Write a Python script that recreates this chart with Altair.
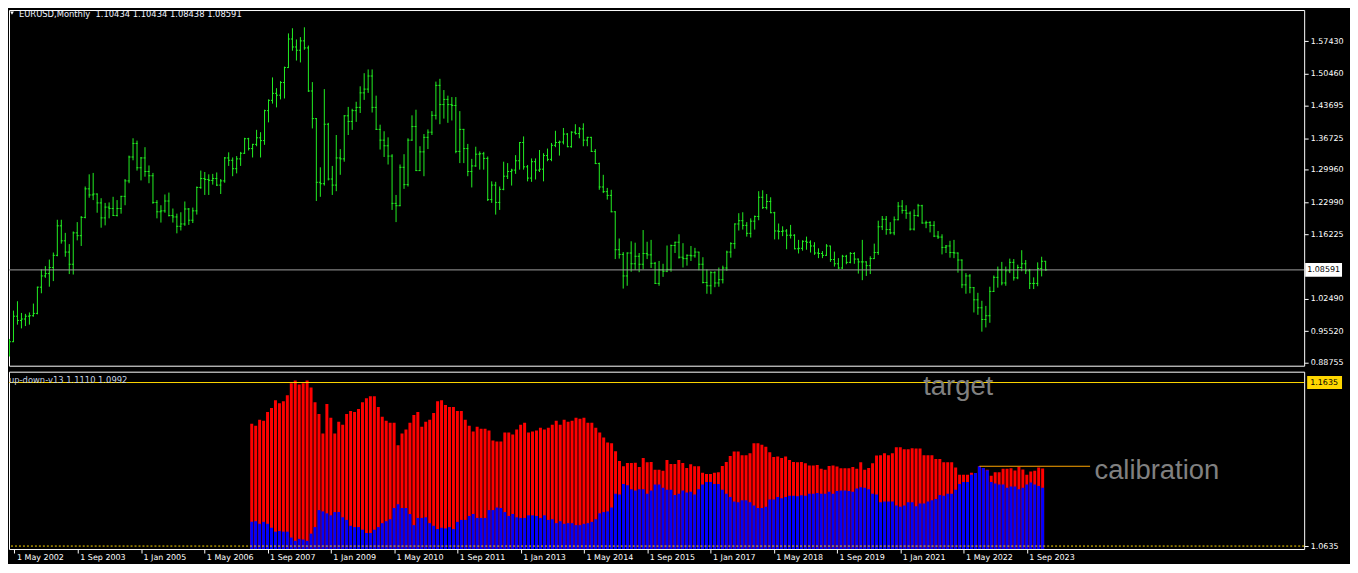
import altair as alt
import pandas as pd

# ---------------- price data: EURUSD monthly, May 2002 .. Jan 2024 ----------------
FIRST_OPEN = 0.9050
CLOSE = [
    0.9325, 0.9870, 0.9780, 0.9810, 0.9870, 0.9880, 0.9930, 1.0490,  # 2002 May-Dec
    1.0730, 1.0780, 1.0910, 1.1170, 1.1800, 1.1480, 1.1240, 1.0980, 1.1650, 1.1590, 1.1980, 1.2590,  # 2003
    1.2460, 1.2480, 1.2290, 1.1970, 1.2200, 1.2170, 1.2020, 1.2170, 1.2430, 1.2760, 1.3270, 1.3560,  # 2004
    1.3040, 1.3250, 1.2960, 1.2870, 1.2300, 1.2100, 1.2120, 1.2330, 1.2020, 1.1990, 1.1790, 1.1840,  # 2005
    1.2160, 1.1920, 1.2120, 1.2620, 1.2810, 1.2790, 1.2770, 1.2810, 1.2670, 1.2760, 1.3250, 1.3200,  # 2006
    1.3020, 1.3230, 1.3350, 1.3660, 1.3450, 1.3540, 1.3680, 1.3620, 1.4260, 1.4480, 1.4630, 1.4590,  # 2007
    1.4860, 1.5180, 1.5790, 1.5620, 1.5550, 1.5750, 1.5600, 1.4680, 1.4090, 1.2730, 1.2700, 1.3970,  # 2008
    1.2800, 1.2670, 1.3250, 1.3230, 1.4150, 1.4030, 1.4260, 1.4330, 1.4640, 1.4720, 1.5000, 1.4330,  # 2009
    1.3860, 1.3630, 1.3510, 1.3290, 1.2280, 1.2230, 1.3050, 1.2680, 1.3630, 1.3920, 1.2980, 1.3380,  # 2010
    1.3690, 1.3800, 1.4160, 1.4800, 1.4390, 1.4500, 1.4390, 1.4370, 1.3390, 1.3860, 1.3450, 1.2960,  # 2011
    1.3080, 1.3330, 1.3340, 1.3240, 1.2360, 1.2670, 1.2300, 1.2580, 1.2860, 1.2960, 1.2990, 1.3190,  # 2012
    1.3580, 1.3060, 1.2820, 1.3170, 1.2990, 1.3010, 1.3300, 1.3220, 1.3520, 1.3580, 1.3590, 1.3760,  # 2013
    1.3490, 1.3800, 1.3770, 1.3870, 1.3630, 1.3690, 1.3390, 1.3130, 1.2630, 1.2530, 1.2450, 1.2100,  # 2014
    1.1290, 1.1190, 1.0730, 1.1220, 1.0990, 1.1150, 1.0980, 1.1210, 1.1180, 1.1000, 1.0570, 1.0860,  # 2015
    1.0830, 1.0870, 1.1380, 1.1450, 1.1130, 1.1100, 1.1170, 1.1160, 1.1240, 1.0980, 1.0590, 1.0520,  # 2016
    1.0800, 1.0580, 1.0650, 1.0900, 1.1240, 1.1420, 1.1840, 1.1910, 1.1810, 1.1640, 1.1900, 1.2000,  # 2017
    1.2410, 1.2190, 1.2320, 1.2080, 1.1690, 1.1680, 1.1690, 1.1600, 1.1600, 1.1310, 1.1320, 1.1470,  # 2018
    1.1450, 1.1370, 1.1220, 1.1210, 1.1170, 1.1370, 1.1080, 1.0990, 1.0900, 1.1150, 1.1020, 1.1210,  # 2019
    1.1090, 1.1030, 1.1030, 1.0950, 1.1100, 1.1230, 1.1780, 1.1940, 1.1720, 1.1650, 1.1930, 1.2220,  # 2020
    1.2130, 1.2070, 1.1730, 1.2020, 1.2230, 1.1860, 1.1870, 1.1810, 1.1580, 1.1560, 1.1340, 1.1370,  # 2021
    1.1230, 1.1220, 1.1070, 1.0540, 1.0730, 1.0480, 1.0220, 1.0050, 0.9800, 0.9880, 1.0400, 1.0700,  # 2022
    1.0860, 1.0580, 1.0840, 1.1020, 1.0690, 1.0910, 1.0990, 1.0840, 1.0570, 1.0570, 1.0890, 1.10434,  # 2023
    1.08591,  # 2024 Jan
]
HIGH = [
    0.9385, 0.9990, 1.0190, 0.9940, 0.9920, 0.9950, 1.0140, 1.0500,
    1.0870, 1.0940, 1.1080, 1.1230, 1.1930, 1.1930, 1.1650, 1.1410, 1.1680, 1.1880, 1.2010, 1.2640,
    1.2900, 1.2930, 1.2490, 1.2390, 1.2290, 1.2300, 1.2420, 1.2350, 1.2440, 1.2800, 1.3300, 1.3670,
    1.3620, 1.3270, 1.3480, 1.3090, 1.2930, 1.2350, 1.2240, 1.2470, 1.2510, 1.2170, 1.2060, 1.2090,
    1.2320, 1.2180, 1.2190, 1.2640, 1.2980, 1.2950, 1.2900, 1.2910, 1.2940, 1.2800, 1.3270, 1.3370,
    1.3260, 1.3290, 1.3380, 1.3680, 1.3680, 1.3550, 1.3850, 1.3800, 1.4280, 1.4500, 1.4970, 1.4740,
    1.4890, 1.5200, 1.5910, 1.6020, 1.5780, 1.5830, 1.6040, 1.5650, 1.4870, 1.4100, 1.3050, 1.4720,
    1.4000, 1.3080, 1.3740, 1.3440, 1.4160, 1.4340, 1.4300, 1.4450, 1.4780, 1.5060, 1.5140, 1.5140,
    1.4580, 1.3960, 1.3820, 1.3690, 1.3330, 1.2460, 1.3110, 1.3330, 1.3670, 1.4160, 1.4280, 1.3500,
    1.3760, 1.3860, 1.4250, 1.4880, 1.4940, 1.4700, 1.4580, 1.4550, 1.4550, 1.4250, 1.3870, 1.3550,
    1.3230, 1.3490, 1.3390, 1.3380, 1.3280, 1.2750, 1.2740, 1.2640, 1.3170, 1.3140, 1.3020, 1.3310,
    1.3590, 1.3710, 1.3100, 1.3240, 1.3240, 1.3420, 1.3350, 1.3450, 1.3570, 1.3830, 1.3620, 1.3890,
    1.3780, 1.3820, 1.3970, 1.3910, 1.3990, 1.3700, 1.3700, 1.3440, 1.3150, 1.2890, 1.2610, 1.2570,
    1.2110, 1.1530, 1.1240, 1.1230, 1.1470, 1.1440, 1.1220, 1.1710, 1.1460, 1.1500, 1.1030, 1.1050,
    1.0990, 1.1380, 1.1400, 1.1460, 1.1620, 1.1430, 1.1190, 1.1370, 1.1330, 1.1240, 1.1130, 1.0870,
    1.0830, 1.0830, 1.0910, 1.0950, 1.1270, 1.1450, 1.1850, 1.2070, 1.2090, 1.1880, 1.1960, 1.2020,
    1.2540, 1.2560, 1.2480, 1.2410, 1.2100, 1.1850, 1.1790, 1.1730, 1.1820, 1.1620, 1.1500, 1.1490,
    1.1570, 1.1490, 1.1450, 1.1320, 1.1260, 1.1410, 1.1370, 1.1250, 1.1110, 1.1180, 1.1180, 1.1240,
    1.1240, 1.1100, 1.1500, 1.1040, 1.1150, 1.1420, 1.1910, 1.2010, 1.2010, 1.1880, 1.2000, 1.2310,
    1.2350, 1.2240, 1.2110, 1.2150, 1.2270, 1.2250, 1.1910, 1.1900, 1.1900, 1.1690, 1.1620, 1.1390,
    1.1480, 1.1500, 1.1230, 1.1080, 1.0790, 1.0770, 1.0490, 1.0370, 1.0200, 1.0090, 1.0500, 1.0740,
    1.0930, 1.1030, 1.0930, 1.1100, 1.1090, 1.0970, 1.1280, 1.1070, 1.0880, 1.0700, 1.1020, 1.1140,
    1.10434,
]
LOW = [
    0.9010, 0.9320, 0.9690, 0.9610, 0.9660, 0.9690, 0.9860, 0.9910,
    1.0360, 1.0690, 1.0500, 1.0620, 1.1150, 1.1420, 1.1140, 1.0770, 1.0760, 1.1490, 1.1370, 1.1960,
    1.2400, 1.2350, 1.2080, 1.1760, 1.1810, 1.1960, 1.2010, 1.2000, 1.2060, 1.2240, 1.2710, 1.3200,
    1.2980, 1.2770, 1.2850, 1.2710, 1.2270, 1.1960, 1.1870, 1.2080, 1.2000, 1.1870, 1.1640, 1.1700,
    1.1800, 1.1820, 1.1860, 1.2040, 1.2590, 1.2460, 1.2460, 1.2680, 1.2650, 1.2480, 1.2720, 1.3080,
    1.2860, 1.2920, 1.3080, 1.3340, 1.3410, 1.3260, 1.3500, 1.3260, 1.3530, 1.4010, 1.4410, 1.4330,
    1.4500, 1.4520, 1.5180, 1.5540, 1.5330, 1.5290, 1.5560, 1.4660, 1.3880, 1.2330, 1.2420, 1.2660,
    1.2770, 1.2460, 1.2540, 1.2890, 1.3170, 1.3740, 1.3850, 1.4020, 1.4210, 1.4490, 1.4640, 1.4220,
    1.3850, 1.3430, 1.3270, 1.3110, 1.2140, 1.1880, 1.2220, 1.2590, 1.2640, 1.3620, 1.2970, 1.2970,
    1.2860, 1.3440, 1.3740, 1.4070, 1.3970, 1.4090, 1.4000, 1.4050, 1.3350, 1.3140, 1.3140, 1.2860,
    1.2620, 1.3060, 1.3000, 1.3000, 1.2330, 1.2290, 1.2040, 1.2140, 1.2560, 1.2800, 1.2660, 1.2910,
    1.3000, 1.3000, 1.2750, 1.2740, 1.2790, 1.2950, 1.2750, 1.3180, 1.3180, 1.3480, 1.3300, 1.3540,
    1.3480, 1.3470, 1.3750, 1.3670, 1.3500, 1.3500, 1.3380, 1.3120, 1.2570, 1.2500, 1.2360, 1.2090,
    1.1090, 1.1100, 1.0460, 1.0520, 1.0820, 1.0860, 1.0810, 1.0870, 1.1090, 1.0900, 1.0560, 1.0520,
    1.0710, 1.0810, 1.0820, 1.1220, 1.1100, 1.0910, 1.0950, 1.1050, 1.1120, 1.0850, 1.0570, 1.0350,
    1.0340, 1.0490, 1.0500, 1.0570, 1.0840, 1.1120, 1.1310, 1.1700, 1.1720, 1.1570, 1.1550, 1.1720,
    1.1920, 1.2160, 1.2150, 1.2070, 1.1510, 1.1510, 1.1580, 1.1300, 1.1530, 1.1300, 1.1210, 1.1270,
    1.1290, 1.1230, 1.1180, 1.1110, 1.1110, 1.1160, 1.1030, 1.0930, 1.0880, 1.0880, 1.0980, 1.1000,
    1.0990, 1.0780, 1.0640, 1.0730, 1.0770, 1.1100, 1.1180, 1.1710, 1.1610, 1.1620, 1.1600, 1.1920,
    1.2060, 1.1950, 1.1700, 1.1700, 1.1990, 1.1850, 1.1750, 1.1660, 1.1560, 1.1520, 1.1190, 1.1220,
    1.1120, 1.1110, 1.0800, 1.0470, 1.0350, 1.0360, 0.9950, 0.9900, 0.9540, 0.9630, 0.9730, 1.0390,
    1.0480, 1.0530, 1.0520, 1.0790, 1.0630, 1.0660, 1.0830, 1.0770, 1.0450, 1.0450, 1.0510, 1.0720,
    1.08438,
]

# ---------------- indicator "up-down-v13" (starts at bar index 60 = May 2007) ----------------
IND_START = 60
RED = [
    1.1383, 1.1371, 1.1407, 1.1401, 1.1455, 1.1479, 1.1527, 1.1509, 1.1521, 1.1557,
    1.1631, 1.1647, 1.1623, 1.1631, 1.1647, 1.1605, 1.1515, 1.1443, 1.1323, 1.1503,
    1.1419, 1.1323, 1.1395, 1.1377, 1.1443, 1.1461, 1.1455, 1.1473, 1.1515, 1.1539,
    1.1551, 1.1551, 1.1485, 1.1425, 1.1401, 1.1389, 1.1389, 1.1251, 1.1323, 1.1347,
    1.1389, 1.1437, 1.1455, 1.1365, 1.1395, 1.1407, 1.1449, 1.1521, 1.1527, 1.1497,
    1.1485, 1.1485, 1.1461, 1.1461, 1.1407, 1.1371, 1.1335, 1.1365, 1.1353, 1.1353,
    1.1341, 1.1281, 1.1275, 1.1275, 1.1329, 1.1329, 1.1317, 1.1347, 1.1377, 1.1389,
    1.1329, 1.1335, 1.1341, 1.1359, 1.1347, 1.1359, 1.1377, 1.1401, 1.1377, 1.1407,
    1.1395, 1.1401, 1.1419, 1.1413, 1.1419, 1.1389, 1.1389, 1.1359, 1.1329, 1.1299,
    1.1269, 1.1263, 1.1215, 1.1155,
    1.1123, 1.1143, 1.1143, 1.1145, 1.1119, 1.1173,
    1.1147, 1.1149, 1.1101, 1.1101, 1.1095, 1.1161, 1.1137, 1.1137, 1.1161, 1.1143,
    1.1113, 1.1135, 1.1123, 1.1123, 1.1083, 1.1075, 1.1075, 1.1083, 1.1087, 1.1125,
    1.1149, 1.1185, 1.1213, 1.1213, 1.1191, 1.1191, 1.1203, 1.1263, 1.1263, 1.1255,
    1.1243, 1.1209, 1.1179, 1.1183, 1.1173, 1.1183, 1.1161, 1.1149, 1.1147, 1.1149,
    1.1141, 1.1127, 1.1127, 1.1131, 1.1107, 1.1101, 1.1125, 1.1127, 1.1121, 1.1111,
    1.1111, 1.1111, 1.1119, 1.1107, 1.1147, 1.1101, 1.1113, 1.1141, 1.1189, 1.1191,
    1.1203, 1.1191, 1.1203, 1.1239, 1.1239, 1.1227, 1.1227, 1.1233, 1.1231, 1.1231,
    1.1191, 1.1191, 1.1191, 1.1167, 1.1167, 1.1147, 1.1147, 1.1147, 1.1115, 1.1071,
    1.1071, 1.1071, 1.1083, 1.1081, 1.1123, 1.1113, 1.1101, 1.1065, 1.1087, 1.1087,
    1.1107, 1.1107, 1.1111, 1.1097, 1.1119, 1.1103, 1.1071, 1.1091, 1.1095, 1.1115,
    1.1110,
]
BLUE = [
    1.0783, 1.0787, 1.0771, 1.0783, 1.0771, 1.0747, 1.0723, 1.0727, 1.0723, 1.0723,
    1.0687, 1.0667, 1.0679, 1.0675, 1.0667, 1.0711, 1.0751, 1.0855, 1.0847, 1.0835,
    1.0823, 1.0843, 1.0843, 1.0811, 1.0795, 1.0759, 1.0751, 1.0751, 1.0735, 1.0715,
    1.0715, 1.0735, 1.0751, 1.0775, 1.0787, 1.0799, 1.0867, 1.0891, 1.0867, 1.0867,
    1.0831, 1.0763, 1.0807, 1.0807, 1.0811, 1.0775, 1.0759, 1.0739, 1.0747, 1.0743,
    1.0751, 1.0739, 1.0783, 1.0795, 1.0795, 1.0819, 1.0831, 1.0807, 1.0807, 1.0807,
    1.0855, 1.0855, 1.0871, 1.0867, 1.0843, 1.0819, 1.0831, 1.0811, 1.0807, 1.0807,
    1.0823, 1.0823, 1.0819, 1.0807, 1.0823, 1.0795, 1.0799, 1.0775, 1.0787, 1.0771,
    1.0775, 1.0775, 1.0763, 1.0763, 1.0771, 1.0775, 1.0783, 1.0799, 1.0835, 1.0843,
    1.0847, 1.0871, 1.0955, 1.0951,
    1.1015, 1.1007, 1.0983, 1.0975, 1.0983, 1.0983,
    1.0955, 1.0975, 1.1011, 1.1011, 1.0991, 1.0979, 1.0979, 1.0947, 1.0955, 1.0975,
    1.0963, 1.0967, 1.0951, 1.0983, 1.1011, 1.1027, 1.1027, 1.1015, 1.1015, 1.0979,
    1.0955, 1.0935, 1.0907, 1.0903, 1.0915, 1.0915, 1.0903, 1.0883, 1.0867, 1.0867,
    1.0875, 1.0919, 1.0919, 1.0935, 1.0927, 1.0935, 1.0943, 1.0943, 1.0939, 1.0945,
    1.0943, 1.0955, 1.0955, 1.0959, 1.0955, 1.0955, 1.0967, 1.0955, 1.0971, 1.0975,
    1.0975, 1.0971, 1.0967, 1.0987, 1.0995, 1.0991, 1.0983, 1.0955, 1.0951, 1.0903,
    1.0907, 1.0907, 1.0907, 1.0883, 1.0875, 1.0883, 1.0903, 1.0903, 1.0879, 1.0895,
    1.0895, 1.0907, 1.0915, 1.0923, 1.0947, 1.0943, 1.0955, 1.0955, 1.0979, 1.1015,
    1.1027, 1.1027, 1.1071, 1.1081, 1.1123, 1.1113, 1.1099, 1.1027, 1.1017, 1.1011,
    1.1011, 1.0991, 1.0999, 1.0999, 1.0983, 1.0991, 1.1011, 1.1023, 1.1011, 1.1003,
    1.0992,
]

TARGET_LEVEL = 1.1635
LOW_LEVEL = 1.0635
CALIB_LEVEL = 1.1123
CALIB_FROM, CALIB_TO = 244, 272
TARGET_TEXT_POS = (229.8, 1.1557)
CALIB_TEXT_POS = (273.1, 1.1045)

PRICE_TICKS = [1.57430, 1.50460, 1.43695, 1.36725, 1.29960, 1.22990, 1.16225,
               1.02490, 0.95520, 0.88755]
TICK_IDX = [0, 16, 32, 48, 64, 80, 96, 112, 128, 144, 160, 176, 192, 208, 224, 240, 256]
TICK_TEXT = ["1 May 2002", "1 Sep 2003", "1 Jan 2005", "1 May 2006", "1 Sep 2007",
             "1 Jan 2009", "1 May 2010", "1 Sep 2011", "1 Jan 2013", "1 May 2014",
             "1 Sep 2015", "1 Jan 2017", "1 May 2018", "1 Sep 2019", "1 Jan 2021",
             "1 May 2022", "1 Sep 2023"]

assert len(CLOSE) == len(HIGH) == len(LOW) == 261
assert len(RED) == len(BLUE) == 201

# ---------------- layout / style ----------------
W, H_TOP, H_BOT = 1300, 357, 178
X_DOMAIN = [-0.125, 324.875]          # 4 px per month
PRICE_DOMAIN = [0.88131, 1.64090]
IND_DOMAIN = [1.06169, 1.17013]
GREEN = "#22ee22"
GOLD = "#FFD700"
FONT = "DejaVu Sans"

opens = [FIRST_OPEN] + CLOSE[:-1]
price = pd.DataFrame({"i": list(range(len(CLOSE))), "o": opens, "h": HIGH, "l": LOW, "c": CLOSE})
ind = pd.DataFrame({"i": [IND_START + k for k in range(len(RED))], "red": RED, "blue": BLUE})

xs = alt.Scale(domain=X_DOMAIN, nice=False, zero=False)
ys = alt.Scale(domain=PRICE_DOMAIN, nice=False, zero=False)
yb = alt.Scale(domain=IND_DOMAIN, nice=False, zero=False)

Y_AXIS_TOP = alt.Axis(orient="right", values=PRICE_TICKS, format=".5f", title=None, grid=False,
                      domain=False, tickSize=4, labelPadding=2)
Y_AXIS_BOT = alt.Axis(orient="right", values=[LOW_LEVEL], format=".4f", title=None, grid=False,
                      domain=False, tickSize=4, labelPadding=2)
label_expr = " : ".join(f"datum.value == {v} ? '{t}'" for v, t in zip(TICK_IDX, TICK_TEXT)) + " : ''"
X_AXIS_BOT = alt.Axis(values=TICK_IDX, labelExpr=label_expr, labelAlign="left", labelOffset=2,
                      tickSize=4, labelPadding=1, domain=False, grid=False, title=None,
                      labelFlush=False, labelOverlap=False, labelBound=False)


def X(field):
    return alt.X(field, scale=xs, axis=None)


def YT(field):
    return alt.Y(field, scale=ys, axis=Y_AXIS_TOP)


# ---------------- top panel: OHLC bars ----------------
pbase = alt.Chart(price)
hl = pbase.mark_rule(color=GREEN, strokeWidth=1, clip=True).encode(x=X("i:Q"), y=YT("l:Q"), y2="h:Q")
op = pbase.mark_rule(color=GREEN, strokeWidth=1, xOffset=-1.5, x2Offset=0.5, clip=True).encode(
    x=X("i:Q"), x2="i:Q", y=YT("o:Q"))
cl = pbase.mark_rule(color=GREEN, strokeWidth=1, xOffset=-0.5, x2Offset=1.5, clip=True).encode(
    x=X("i:Q"), x2="i:Q", y=YT("c:Q"))

cur = pd.DataFrame({"p": [CLOSE[-1]], "t": [f"{CLOSE[-1]:.5f}"]})
cur_line = alt.Chart(cur).mark_rule(color="#a0a0a0", strokeWidth=1).encode(y=YT("p:Q"))
cur_box = alt.Chart(cur).mark_rule(color="white", strokeWidth=14, strokeCap="butt").encode(
    x=alt.value(W + 1), x2=alt.value(W + 38), y=YT("p:Q"))
cur_txt = alt.Chart(cur).mark_text(align="left", baseline="middle", color="black", font=FONT,
                                   fontSize=8).encode(x=alt.value(W + 3), y=YT("p:Q"), text="t:N")

head = pd.DataFrame({"t": [f"EURUSD,Monthly\u00a0\u00a0{opens[-1]:.5f} {HIGH[-1]:.5f} "
                           f"{LOW[-1]:.5f} {CLOSE[-1]:.5f}"]})
head_txt = alt.Chart(head).mark_text(align="left", baseline="middle", color="#f0f4ff", font=FONT,
                                     fontSize=8.4).encode(x=alt.value(10), y=alt.value(4), text="t:N")
tri = alt.Chart(head).mark_point(shape="triangle-down", filled=True, color="white", opacity=1,
                                 size=14).encode(x=alt.value(3), y=alt.value(3))

top = alt.layer(hl, op, cl, cur_line, cur_box, cur_txt, head_txt, tri).properties(width=W, height=H_TOP)

# ---------------- bottom panel: indicator ----------------
def XB(field):
    return alt.X(field, scale=xs, axis=X_AXIS_BOT)


def YB(field):
    return alt.Y(field, scale=yb, axis=Y_AXIS_BOT)


ibase = alt.Chart(ind)
red = ibase.mark_bar(color="#ff0000", width=3, orient="vertical", clip=True).encode(
    x=XB("i:Q"), y=YB("red:Q"), y2=alt.datum(IND_DOMAIN[0]))
blue = ibase.mark_bar(color="#0000ff", width=3, orient="vertical", clip=True).encode(
    x=XB("i:Q"), y=YB("blue:Q"), y2=alt.datum(IND_DOMAIN[0]))

lv = pd.DataFrame({"v": [TARGET_LEVEL], "t": [f"{TARGET_LEVEL:.4f}"]})
target_line = alt.Chart(lv).mark_rule(color=GOLD, strokeWidth=1).encode(y=YB("v:Q"))
low_line = alt.Chart(pd.DataFrame({"v": [LOW_LEVEL]})).mark_rule(
    color=GOLD, strokeWidth=1, strokeDash=[2, 2]).encode(y=YB("v:Q"))
calib = pd.DataFrame({"a": [CALIB_FROM], "b": [CALIB_TO], "v": [CALIB_LEVEL]})
calib_line = alt.Chart(calib).mark_rule(color="#FFA500", strokeWidth=1).encode(
    x=XB("a:Q"), x2="b:Q", y=YB("v:Q"))

notes = pd.DataFrame({"x": [TARGET_TEXT_POS[0], CALIB_TEXT_POS[0]],
                      "y": [TARGET_TEXT_POS[1], CALIB_TEXT_POS[1]],
                      "t": ["target", "calibration"]})
note_txt = alt.Chart(notes).mark_text(align="left", baseline="alphabetic", color="#808080",
                                      font="Liberation Sans", fontSize=27.5).encode(
    x=XB("x:Q"), y=YB("y:Q"), text="t:N")

ind_head = pd.DataFrame({"t": [f"up-down-v13 {RED[-1]:.4f} {BLUE[-1]:.4f}"]})
ind_head_txt = alt.Chart(ind_head).mark_text(align="left", baseline="middle", color="#c4d2e0",
                                             font=FONT, fontSize=8.4).encode(
    x=alt.value(0), y=alt.value(8), text="t:N")

t_box = alt.Chart(lv).mark_rule(color=GOLD, strokeWidth=13, strokeCap="butt").encode(
    x=alt.value(W + 3), x2=alt.value(W + 38), y=YB("v:Q"))
t_txt = alt.Chart(lv).mark_text(align="left", baseline="middle", color="black", font=FONT,
                                fontSize=8).encode(x=alt.value(W + 6), y=YB("v:Q"), text="t:N")

bottom = alt.layer(red, blue, target_line, low_line, calib_line, note_txt, ind_head_txt,
                   t_box, t_txt).properties(width=W, height=H_BOT)

chart = alt.vconcat(top, bottom, spacing=3).properties(
    padding={"left": 0, "top": 0, "right": 0, "bottom": 0}
).configure(background="black").configure_view(
    stroke="white", strokeWidth=1, fill="black"
).configure_axis(
    labelColor="white", tickColor="white", labelFont=FONT, labelFontSize=8, tickWidth=1
)

chart.save("out.html", embed_options={"renderer": "svg", "actions": False})
